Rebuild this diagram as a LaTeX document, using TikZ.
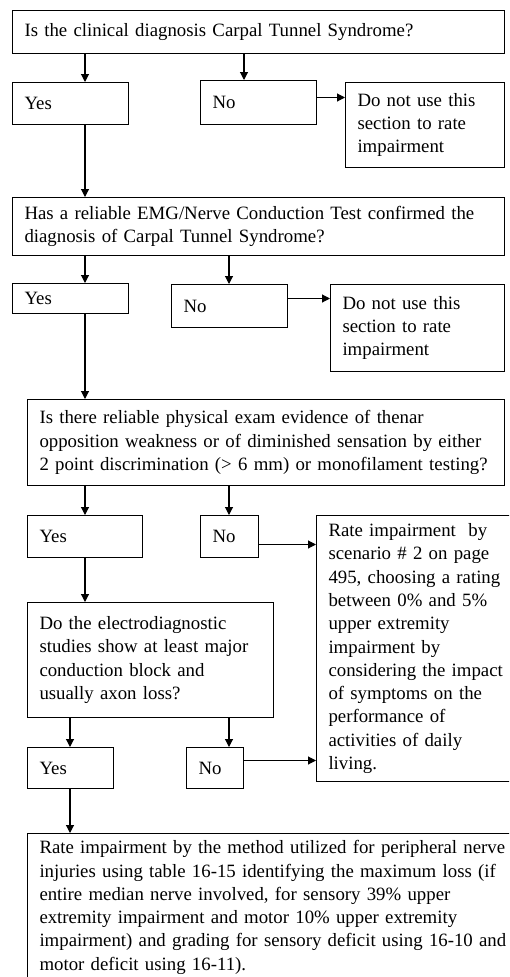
\documentclass[tikz,border=0pt]{standalone}
\usepackage{fontspec}
\setmainfont{Liberation Serif}
\usetikzlibrary{arrows.meta}
\tikzset{
  flowBox/.style={draw, line width=1pt, anchor=north west, align=left,
    inner xsep=12pt, inner ysep=8pt, font=\fontsize{18.8}{23.3}\selectfont},
  flowArrow/.style={-{Triangle[length=8pt, width=8pt]}, line width=1.1pt}
}

\begin{document}
\begin{tikzpicture}[x=1pt, y=-1pt]
  \useasboundingbox (0,0) rectangle (509,977);
  \clip (0,0) rectangle (509,977);

  % colunas das setas verticais
  \coordinate (colA) at (85,0);
  \coordinate (colB) at (244,0);
  \coordinate (colC) at (229,0);
  \coordinate (colD) at (70,0);

  %% --- PARTE 1: DIAGNOSTICO CLINICO ---
  \node[flowBox, text width=468pt, minimum height=43pt] (q1) at (12,10)
    {Is the clinical diagnosis Carpal Tunnel Syndrome?};
  \node[flowBox, text width=92pt, minimum height=42pt] (yes1) at (12,82) {Yes};
  \node[flowBox, text width=92pt, minimum height=44pt] (no1) at (200,80) {No};
  \node[flowBox, text width=135pt, minimum height=85pt] (stop1) at (345,82)
    {Do not use this\\section to rate\\impairment};

  \draw[flowArrow] (q1.south -| colA) -- (yes1.north -| colA);
  \draw[flowArrow] (q1.south -| colB) -- (no1.north -| colB);
  \draw[flowArrow] ([yshift=5pt]no1.east) -- ([yshift=5pt]no1.east -| stop1.west);

  %% --- PARTE 2: EMG ---
  \node[flowBox, text width=468pt, minimum height=58pt] (q2) at (12,197)
    {Has a reliable EMG/Nerve Conduction Test confirmed the\\diagnosis of Carpal Tunnel Syndrome?};
  \node[flowBox, text width=92pt, minimum height=30pt] (yes2) at (12,283) {Yes};
  \node[flowBox, text width=92pt, minimum height=43pt] (no2) at (171,284) {No};
  \node[flowBox, text width=150pt, minimum height=87pt] (stop2) at (330,284)
    {Do not use this\\section to rate\\impairment};

  \draw[flowArrow] (yes1.south -| colA) -- (q2.north -| colA);
  \draw[flowArrow] (q2.south -| colA) -- (yes2.north -| colA);
  \draw[flowArrow] (q2.south -| colC) -- (no2.north -| colC);
  \draw[flowArrow] ([yshift=7.5pt]no2.east) -- ([yshift=7.5pt]no2.east -| stop2.west);

  %% --- PARTE 3: EXAME FISICO ---
  \node[flowBox, text width=453pt, minimum height=86pt] (q3) at (27,399)
    {Is there reliable physical exam evidence of thenar\\opposition weakness or of diminished sensation by either\\2 point discrimination (> 6 mm) or monofilament testing?};
  \node[flowBox, text width=91pt, minimum height=42pt] (yes3) at (27,515) {Yes};
  \node[flowBox, text width=34pt, minimum height=42pt] (no3) at (200,515) {No};
  \node[flowBox, text width=200pt, minimum height=258pt] (rate2) at (316,515)
    {Rate impairment \ by\\scenario \# 2 on page\\495, choosing a rating\\between 0\% and 5\%\\upper extremity\\impairment by\\considering the impact\\of symptoms on the\\performance of\\activities of daily\\living.};

  \draw[flowArrow] (yes2.south -| colA) -- (q3.north -| colA);
  \draw[flowArrow] (q3.south -| colA) -- (yes3.north -| colA);
  \draw[flowArrow] (q3.south -| colC) -- (no3.north -| colC);
  \draw[flowArrow] ([yshift=-8pt]no3.east) -- ([yshift=-8pt]no3.east -| rate2.west);

  %% --- PARTE 4: ELETRODIAGNOSTICO ---
  \node[flowBox, text width=222pt, minimum height=115pt] (q4) at (27,602)
    {Do the electrodiagnostic\\studies show at least major\\conduction block and\\usually axon loss?};
  \node[flowBox, text width=62pt, minimum height=41pt] (yes4) at (27,747) {Yes};
  \node[flowBox, text width=33pt, minimum height=41pt] (no4) at (186,747) {No};

  \draw[flowArrow] (yes3.south -| colA) -- (q4.north -| colA);
  \draw[flowArrow] (q4.south -| colD) -- (yes4.north -| colD);
  \draw[flowArrow] (q4.south -| colC) -- (no4.north -| colC);
  \draw[flowArrow] ([yshift=7.5pt]no4.east) -- ([yshift=7.5pt]no4.east -| rate2.west);

  %% --- PARTE 5: NERVO PERIFERICO ---
  \node[flowBox, text width=500pt, inner ysep=7pt] (rate1) at (27,833)
    {Rate impairment by the method utilized for peripheral nerve\\injuries using table 16-15 identifying the maximum loss (if\\entire median nerve involved, for sensory 39\% upper\\extremity impairment and motor 10\% upper extremity\\impairment) and grading for sensory deficit using 16-10 and\\motor deficit using 16-11).};

  \draw[flowArrow] (yes4.south -| colD) -- (rate1.north -| colD);
\end{tikzpicture}
\end{document}
